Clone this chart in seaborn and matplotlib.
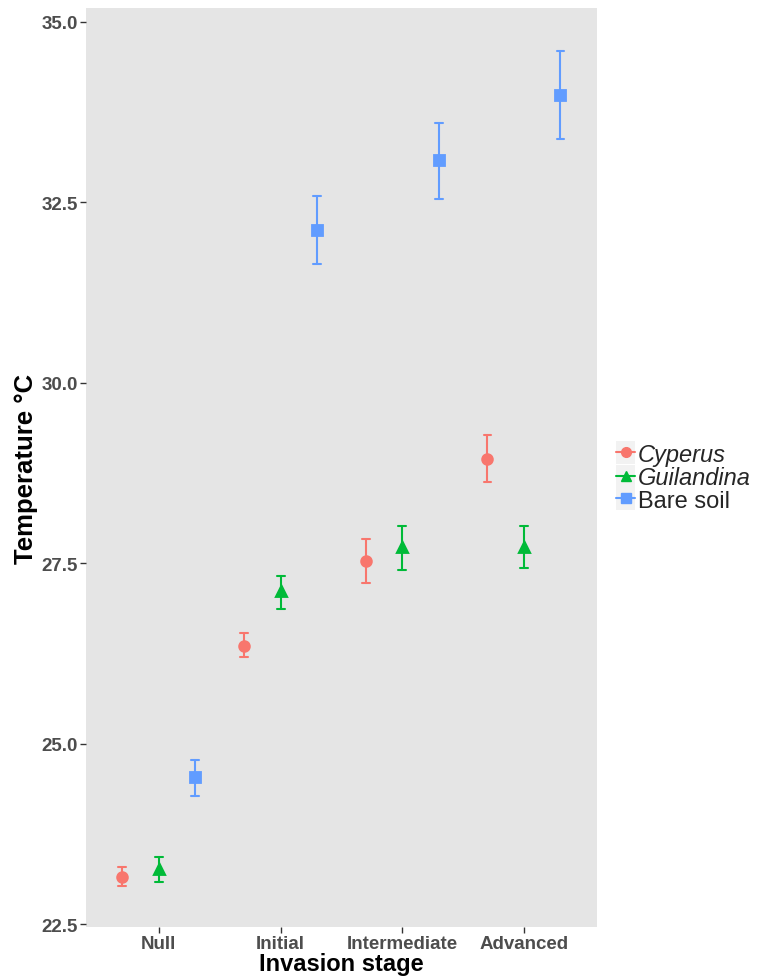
import numpy as np
import pandas as pd
import matplotlib
matplotlib.use('Agg')
import matplotlib.pyplot as plt
import seaborn as sns
from matplotlib.lines import Line2D
from matplotlib.patches import Rectangle
from matplotlib.legend_handler import HandlerLine2D

stages = ['Null', 'Initial', 'Intermediate', 'Advanced']
covers = ['Cyperus', 'Guilandina', 'Bare soil']

# mean and error bar limits per invasion stage
cyperus_mean = [23.15, 26.36, 27.53, 28.95]
cyperus_lo = [23.03, 26.20, 27.23, 28.63]
cyperus_hi = [23.29, 26.54, 27.84, 29.28]

guilandina_mean = [23.26, 27.12, 27.72, 27.72]
guilandina_lo = [23.08, 26.87, 27.41, 27.43]
guilandina_hi = [23.43, 27.32, 28.02, 28.01]

bare_mean = [24.54, 32.12, 33.08, 33.99]
bare_lo = [24.27, 31.65, 32.55, 33.37]
bare_hi = [24.78, 32.59, 33.60, 34.60]

palette = ['#F8766D', '#00BA38', '#619CFF']
markers = ['o', '^', 's']


def build_frame():
    series = {
        'Cyperus': (cyperus_lo, cyperus_mean, cyperus_hi),
        'Guilandina': (guilandina_lo, guilandina_mean, guilandina_hi),
        'Bare soil': (bare_lo, bare_mean, bare_hi),
    }
    rows = []
    for cover, (lo, mid, hi) in series.items():
        for i, stage in enumerate(stages):
            # median of the three is the mean, min/max are the bar ends
            for v in (lo[i], mid[i], hi[i]):
                rows.append({'stage': stage, 'cover': cover, 'temp': v})
    return pd.DataFrame(rows)


class KeyHandler(HandlerLine2D):
    def create_artists(self, legend, orig_handle, xdescent, ydescent,
                       width, height, fontsize, trans):
        bg = Rectangle((-xdescent, -ydescent - 2), width, height + 4,
                       facecolor='#F2F2F2', edgecolor='none', transform=trans)
        arts = super().create_artists(legend, orig_handle, xdescent, ydescent,
                                      width, height, fontsize, trans)
        return [bg] + list(arts)


def main():
    df = build_frame()

    sns.set_theme(style='white')
    plt.rcParams['font.family'] = ['Liberation Sans', 'DejaVu Sans']

    fig = plt.figure(figsize=(7.6, 9.78), dpi=100)
    ax = fig.add_axes([0.113, 0.051, 0.6725, 0.9398])
    ax.set_facecolor('#E5E5E5')

    sns.pointplot(data=df, x='stage', y='temp', hue='cover', order=stages,
                  hue_order=covers, palette=palette, markers=markers,
                  estimator='median', errorbar=('pi', 100), dodge=0.6,
                  linestyle='none', capsize=0.065, err_kws={'linewidth': 1.5},
                  markersize=7, ax=ax)

    ax.set_xlim(-0.6, 3.6)
    ax.set_ylim(22.46, 35.19)
    ax.set_yticks([22.5, 25.0, 27.5, 30.0, 32.5, 35.0])
    ax.set_yticklabels(['22.5', '25.0', '27.5', '30.0', '32.5', '35.0'])
    for side in ax.spines.values():
        side.set_visible(False)
    ax.tick_params(axis='both', length=4, width=1, color='#333333',
                   labelsize=13.5, labelcolor='#4D4D4D', pad=2, left=True, bottom=True)
    for lab in ax.get_xticklabels() + ax.get_yticklabels():
        lab.set_fontweight('bold')

    ax.set_xlabel('Invasion stage', fontsize=17, fontweight='bold', color='black', labelpad=0)
    ax.set_ylabel('Temperature °C', fontsize=18.5, fontweight='bold', color='black', labelpad=2)

    if ax.get_legend() is not None:
        ax.get_legend().remove()
    handles = [Line2D([], [], color=c, marker=m, markersize=7, linewidth=1.5)
               for c, m in zip(palette, markers)]
    leg = fig.legend(handles, covers, loc='center left', bbox_to_anchor=(0.811, 0.511),
                     frameon=False, fontsize=17, handlelength=0.8, handleheight=0.75,
                     handletextpad=0.12, labelspacing=0.02, borderpad=0,
                     borderaxespad=0, handler_map={Line2D: KeyHandler()})
    for t in leg.get_texts()[:2]:
        t.set_fontstyle('italic')

    fig.savefig('out.png', dpi=100)


if __name__ == '__main__':
    main()
